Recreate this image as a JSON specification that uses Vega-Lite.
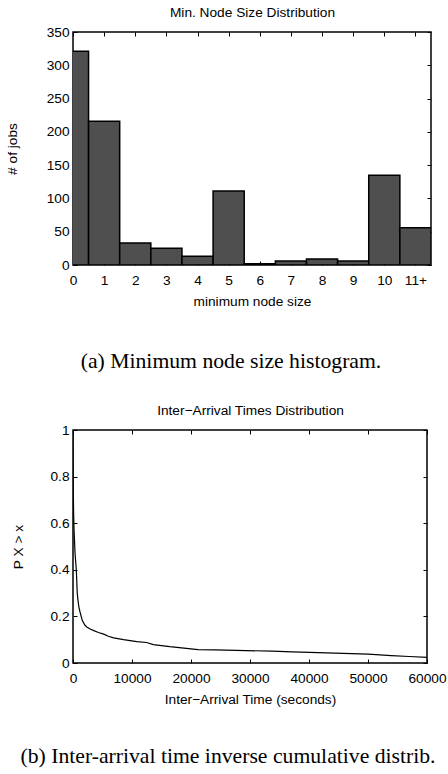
{
  "$schema": "https://vega.github.io/schema/vega-lite/v6.json",
  "padding": {"left": 4, "top": 4, "right": 0, "bottom": 0},
  "columns": 1,
  "align": "none",
  "spacing": 28,
  "config": {
    "view": {"stroke": "black", "strokeWidth": 1.5},
    "axis": {
      "labelFont": "Liberation Sans", "titleFont": "Liberation Sans",
      "labelFontSize": 13.7, "titleFontSize": 13.7, "titleFontWeight": "normal",
      "labelColor": "black", "titleColor": "black", "tickColor": "black",
      "tickSize": -4, "tickWidth": 1, "domain": false, "grid": false,
      "labelPadding": 8, "labelFlush": false
    },
    "title": {"font": "Liberation Serif", "fontSize": 21.7, "fontWeight": "normal", "color": "black", "orient": "bottom", "anchor": "middle"}
  },
  "concat": [
    {
      "title": {"text": "(a) Minimum node size histogram.", "offset": 43, "dx": -21},
      "width": 358,
      "height": 233,
      "data": {"values": [
        {"size": "0", "bin_start": -0.5, "bin_end": 0.5, "jobs": 321},
        {"size": "1", "bin_start": 0.5, "bin_end": 1.5, "jobs": 216},
        {"size": "2", "bin_start": 1.5, "bin_end": 2.5, "jobs": 33},
        {"size": "3", "bin_start": 2.5, "bin_end": 3.5, "jobs": 25},
        {"size": "4", "bin_start": 3.5, "bin_end": 4.5, "jobs": 13},
        {"size": "5", "bin_start": 4.5, "bin_end": 5.5, "jobs": 111},
        {"size": "6", "bin_start": 5.5, "bin_end": 6.5, "jobs": 2},
        {"size": "7", "bin_start": 6.5, "bin_end": 7.5, "jobs": 6},
        {"size": "8", "bin_start": 7.5, "bin_end": 8.5, "jobs": 9},
        {"size": "9", "bin_start": 8.5, "bin_end": 9.5, "jobs": 6},
        {"size": "10", "bin_start": 9.5, "bin_end": 10.5, "jobs": 135},
        {"size": "11+", "bin_start": 10.5, "bin_end": 11.5, "jobs": 56}
      ]},
      "resolve": {"axis": {"x": "independent", "y": "independent"}},
      "layer": [
        {
          "mark": {"type": "bar", "fill": "#4f4f4f", "stroke": "black", "strokeWidth": 1.5, "clip": true},
          "encoding": {
            "x": {"field": "bin_start", "type": "quantitative",
              "scale": {"domain": [0, 11.5], "nice": false, "zero": false},
              "axis": {"orient": "bottom", "values": [0,1,2,3,4,5,6,7,8,9,10,11],
                "labelExpr": "datum.value == 11 ? '11+' : datum.label", "labelPadding": 12,
                "title": "minimum node size", "titlePadding": 8}},
            "x2": {"field": "bin_end"},
            "y": {"field": "jobs", "type": "quantitative",
              "scale": {"domain": [0, 350], "nice": false},
              "axis": {"orient": "left", "values": [0,50,100,150,200,250,300,350], "title": "# of jobs", "titlePadding": 27}},
            "y2": {"datum": 0}
          }
        },
        {
          "mark": {"type": "point", "opacity": 0, "clip": true},
          "encoding": {
            "x": {"field": "bin_start", "type": "quantitative",
              "axis": {"orient": "top", "values": [0,1,2,3,4,5,6,7,8,9,10,11], "labels": false,
                "title": "Min. Node Size Distribution", "titlePadding": 12}},
            "y": {"field": "jobs", "type": "quantitative",
              "axis": {"orient": "right", "values": [0,50,100,150,200,250,300,350], "labels": false, "title": null}}
          }
        }
      ]
    },
    {
      "title": {"text": "(b) Inter-arrival time inverse cumulative distrib.", "offset": 40, "dx": -22},
      "width": 354,
      "height": 233,
      "data": {"values": [
        {"t": 0, "p": 1.0},
        {"t": 40, "p": 0.75},
        {"t": 100, "p": 0.65},
        {"t": 168, "p": 0.575},
        {"t": 350, "p": 0.47},
        {"t": 560, "p": 0.40},
        {"t": 720, "p": 0.30},
        {"t": 840, "p": 0.27},
        {"t": 1000, "p": 0.24},
        {"t": 1180, "p": 0.22},
        {"t": 1570, "p": 0.183},
        {"t": 2000, "p": 0.163},
        {"t": 2400, "p": 0.153},
        {"t": 3000, "p": 0.145},
        {"t": 3530, "p": 0.139},
        {"t": 4300, "p": 0.131},
        {"t": 5210, "p": 0.124},
        {"t": 6000, "p": 0.115},
        {"t": 6890, "p": 0.108},
        {"t": 8570, "p": 0.100},
        {"t": 10810, "p": 0.092},
        {"t": 12490, "p": 0.088},
        {"t": 13610, "p": 0.079},
        {"t": 16410, "p": 0.070},
        {"t": 19210, "p": 0.063},
        {"t": 21180, "p": 0.057},
        {"t": 24000, "p": 0.056},
        {"t": 27620, "p": 0.054},
        {"t": 33780, "p": 0.051},
        {"t": 37140, "p": 0.048},
        {"t": 44420, "p": 0.042},
        {"t": 50030, "p": 0.038},
        {"t": 53950, "p": 0.032},
        {"t": 57000, "p": 0.028},
        {"t": 60000, "p": 0.024}
      ]},
      "resolve": {"axis": {"x": "independent", "y": "independent"}},
      "layer": [
        {
          "mark": {"type": "line", "color": "black", "strokeWidth": 1.2, "clip": true},
          "encoding": {
            "x": {"field": "t", "type": "quantitative",
              "scale": {"domain": [0, 60000], "nice": false},
              "axis": {"orient": "bottom", "values": [0,10000,20000,30000,40000,50000,60000], "format": "d", "labelPadding": 12,
                "title": "Inter\u2212Arrival Time (seconds)", "titlePadding": 8}},
            "y": {"field": "p", "type": "quantitative",
              "scale": {"domain": [0, 1], "nice": false},
              "axis": {"orient": "left", "values": [0,0.2,0.4,0.6,0.8,1], "format": "~g", "title": "P X > x", "titlePadding": 24}}
          }
        },
        {
          "mark": {"type": "point", "opacity": 0, "clip": true},
          "encoding": {
            "x": {"field": "t", "type": "quantitative",
              "axis": {"orient": "top", "values": [0,10000,20000,30000,40000,50000,60000], "labels": false,
                "title": "Inter\u2212Arrival Times Distribution", "titlePadding": 12}},
            "y": {"field": "p", "type": "quantitative",
              "axis": {"orient": "right", "values": [0,0.2,0.4,0.6,0.8,1], "labels": false, "title": null}}
          }
        }
      ]
    }
  ]
}
